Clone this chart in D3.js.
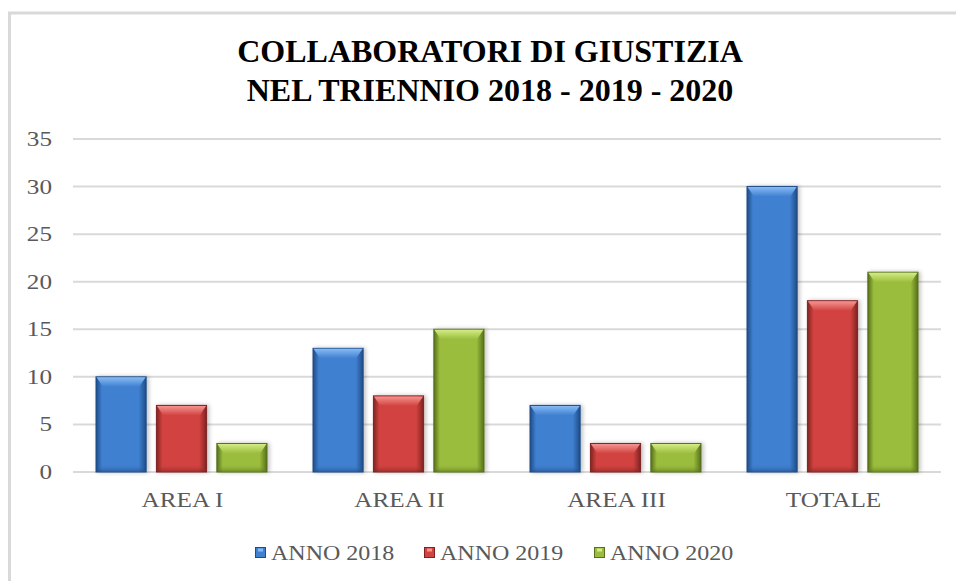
<!DOCTYPE html>
<html><head><meta charset="utf-8">
<script src="https://cdn.jsdelivr.net/npm/d3@7/dist/d3.min.js"></script>
<style>body{margin:0;background:#fff}svg{display:block}</style>
</head><body>
<script>
const categories = ["AREA I", "AREA II", "AREA III", "TOTALE"];
const seriesNames = ["ANNO 2018", "ANNO 2019", "ANNO 2020"];
const anno2018 = [10, 13, 7, 30];
const anno2019 = [7, 8, 3, 18];
const anno2020 = [3, 15, 3, 21];
const yTicks = [0, 5, 10, 15, 20, 25, 30, 35];
const titleLines = ["COLLABORATORI DI GIUSTIZIA", "NEL TRIENNIO 2018 - 2019 - 2020"];

const series = [anno2018, anno2019, anno2020];
const palette = [
  {main:"#4080d0", light:"#86baf5", dark:"#1f4c88"},
  {main:"#d24340", light:"#f59490", dark:"#7e2321"},
  {main:"#9bbd3d", light:"#d3ec85", dark:"#56701d"}
];
const FONT = "Liberation Serif, Times New Roman, serif";
const SX = 1.2;

const W = 956, H = 581;
const svg = d3.select("body").append("svg").attr("width", W).attr("height", H);
const defs = svg.append("defs");

// chart border (left and top visible)
svg.append("rect").attr("x", 9.5).attr("y", 13).attr("width", 960).attr("height", 600)
  .attr("fill", "none").attr("stroke", "#d9d9d9").attr("stroke-width", 3);

const plot = {left: 73, right: 941, top: 139, bottom: 472};
const x0 = d3.scaleBand().domain(categories).range([plot.left, plot.right]).paddingInner(0).paddingOuter(0);
const x1 = d3.scaleBand().domain(d3.range(3)).range([23, x0.bandwidth() - 23]).paddingInner(0.17);
const y = d3.scaleLinear().domain([0, 35]).range([plot.bottom, plot.top]);

// gradients
palette.forEach((p, i) => {
  const gh = defs.append("linearGradient").attr("id", "gh" + i).attr("x1", 0).attr("x2", 1).attr("y1", 0).attr("y2", 0);
  gh.append("stop").attr("offset", "0%").attr("stop-color", p.dark);
  gh.append("stop").attr("offset", "12%").attr("stop-color", p.main);
  gh.append("stop").attr("offset", "85%").attr("stop-color", p.main);
  gh.append("stop").attr("offset", "100%").attr("stop-color", p.dark);
  const gt = defs.append("linearGradient").attr("id", "gt" + i).attr("x1", 0).attr("x2", 0).attr("y1", 0).attr("y2", 1);
  gt.append("stop").attr("offset", "0%").attr("stop-color", p.light);
  gt.append("stop").attr("offset", "100%").attr("stop-color", p.main);
  const gb = defs.append("linearGradient").attr("id", "gb" + i).attr("x1", 0).attr("x2", 0).attr("y1", 0).attr("y2", 1);
  gb.append("stop").attr("offset", "0%").attr("stop-color", p.main).attr("stop-opacity", 0);
  gb.append("stop").attr("offset", "100%").attr("stop-color", p.dark).attr("stop-opacity", 0.6);
});
const sh = defs.append("filter").attr("id", "shadow").attr("x", "-20%").attr("y", "-20%").attr("width", "140%").attr("height", "140%");
sh.append("feGaussianBlur").attr("in", "SourceAlpha").attr("stdDeviation", 2);
sh.append("feOffset").attr("dx", 2).attr("dy", 0).attr("result", "b");
sh.append("feComponentTransfer").append("feFuncA").attr("type", "linear").attr("slope", 0.25);
const m = sh.append("feMerge"); m.append("feMergeNode"); m.append("feMergeNode").attr("in", "SourceGraphic");

// gridlines
svg.append("g").selectAll("line").data(yTicks).join("line")
  .attr("x1", plot.left).attr("x2", plot.right)
  .attr("y1", d => y(d)).attr("y2", d => y(d))
  .attr("stroke", "#d9d9d9").attr("stroke-width", 2);

// y axis labels (horizontally stretched serif like the reference)
svg.append("g").selectAll("text").data(yTicks).join("text")
  .attr("transform", d => `translate(52,${y(d) + 7}) scale(${SX},1)`)
  .attr("text-anchor", "end").attr("font-family", FONT).attr("font-size", 21)
  .attr("fill", "#595959").text(d => d3.format("d")(d));

// x axis labels
svg.append("g").selectAll("text").data(categories).join("text")
  .attr("transform", d => `translate(${x0(d) + x0.bandwidth() / 2 + 1},507) scale(${SX},1)`)
  .attr("text-anchor", "middle").attr("font-family", FONT).attr("font-size", 21)
  .attr("fill", "#595959").text(d => d);

// bars
const bars = [];
categories.forEach((c, ci) => series.forEach((s, si) => bars.push({c, si, v: s[ci]})));
const bg = svg.append("g").selectAll("g").data(bars).join("g")
  .attr("transform", d => `translate(${x0(d.c) + x1(d.si)},${y(d.v)})`);
const bw = x1.bandwidth();
bg.append("rect").attr("width", bw).attr("height", d => y(0) - y(d.v))
  .attr("fill", d => `url(#gh${d.si})`).attr("filter", "url(#shadow)")
  .attr("stroke", d => palette[d.si].dark).attr("stroke-width", 1);
// top bevel trapezoid
bg.append("path").attr("d", d => {
  const h = Math.min(10, (y(0) - y(d.v)) / 2);
  return `M0.5,0.5 L${bw - 0.5},0.5 L${bw - 7},${h} L7,${h} Z`;
}).attr("fill", d => `url(#gt${d.si})`);
// bottom shading
bg.append("path").attr("d", d => {
  const hh = y(0) - y(d.v);
  const h = Math.min(8, hh / 2);
  return `M0.5,${hh - 0.5} L${bw - 0.5},${hh - 0.5} L${bw - 6},${hh - h} L6,${hh - h} Z`;
}).attr("fill", d => `url(#gb${d.si})`);

// title
svg.append("g").selectAll("text").data(titleLines).join("text")
  .attr("x", 490).attr("y", (d, i) => 62 + i * 39)
  .attr("text-anchor", "middle").attr("font-family", FONT)
  .attr("font-weight", "bold").attr("font-size", 32).attr("fill", "#000").text(d => d);

// legend
const legendX = [255, 424, 594];
const lg = svg.append("g").selectAll("g").data(seriesNames).join("g")
  .attr("transform", (d, i) => `translate(${legendX[i]},547)`);
lg.append("rect").attr("x", 0.5).attr("y", 0.5).attr("width", 10).attr("height", 10)
  .attr("fill", (d, i) => palette[i].main).attr("stroke", (d, i) => palette[i].dark);
lg.append("rect").attr("x", 3).attr("y", 1.5).attr("width", 5).attr("height", 3)
  .attr("fill", (d, i) => palette[i].light);
lg.append("text").attr("transform", `translate(16,13) scale(${SX},1)`).attr("font-family", FONT)
  .attr("font-size", 20).attr("fill", "#595959").text(d => d);
</script>
</body></html>
